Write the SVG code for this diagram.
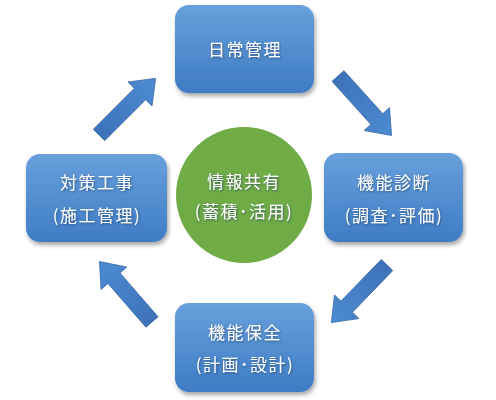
<svg xmlns="http://www.w3.org/2000/svg" width="496" height="400" viewBox="0 0 496 400">
<defs>
<linearGradient id="boxg" x1="0" y1="0" x2="0" y2="1">
<stop offset="0" stop-color="#68a0dc"/>
<stop offset="1" stop-color="#3f7cc4"/>
</linearGradient>
<linearGradient id="arrg" x1="0" y1="0" x2="1" y2="0">
<stop offset="0" stop-color="#3d72b8"/>
<stop offset="1" stop-color="#4d8bd0"/>
</linearGradient>
<filter id="sh" x="-20%" y="-20%" width="140%" height="150%">
<feDropShadow dx="1.5" dy="3" stdDeviation="2" flood-color="#000" flood-opacity="0.35"/>
</filter>
<filter id="ts" x="-10%" y="-30%" width="120%" height="160%">
<feDropShadow dx="0.8" dy="1" stdDeviation="0.8" flood-color="#1a3a66" flood-opacity="0.7"/>
</filter>
<polygon id="arrow" points="0,-8 58,-8 58,-17 80,0 58,17 58,8 0,8"/>
</defs>
<style>
.box{fill:url(#boxg);filter:url(#sh)}
.circ{fill:#6fac46}
.t{font-family:"Noto Sans CJK JP","Noto Sans",sans-serif;font-size:17px;fill:#ffffff;text-anchor:middle;letter-spacing:1.5px;filter:url(#ts)}
.arr{fill:url(#arrg);stroke:#3a6aaa;stroke-width:0.8}
</style>
<rect width="496" height="400" fill="#ffffff"/>
<g id="connectors">
<use href="#arrow" class="arr" transform="translate(99,135) rotate(-45)"/>
<use href="#arrow" class="arr" transform="translate(338,76) rotate(48)"/>
<use href="#arrow" class="arr" transform="translate(387,265) rotate(134)"/>
<use href="#arrow" class="arr" transform="translate(152,322) rotate(-131)"/>
</g>
<g id="node-top">
<rect class="box" x="175" y="5" width="139" height="88" rx="14"/>
<text class="t" x="245" y="56">日常管理</text>
</g>
<g id="node-left">
<rect class="box" x="26" y="154" width="141" height="88" rx="14"/>
<text class="t" x="97" y="189">対策工事</text>
<text class="t" x="97" y="222">(施工管理)</text>
</g>
<g id="node-right">
<rect class="box" x="324" y="153" width="139" height="89" rx="14"/>
<text class="t" x="394" y="189">機能診断</text>
<text class="t" x="394" y="222">(調査･評価)</text>
</g>
<g id="node-bottom">
<rect class="box" x="175" y="303" width="139" height="89" rx="14"/>
<text class="t" x="245" y="339">機能保全</text>
<text class="t" x="245" y="371">(計画･設計)</text>
</g>
<g id="node-center">
<circle class="circ" cx="244" cy="195" r="68"/>
<text class="t" x="244" y="188">情報共有</text>
<text class="t" x="244" y="218">(蓄積･活用)</text>
</g>
</svg>
